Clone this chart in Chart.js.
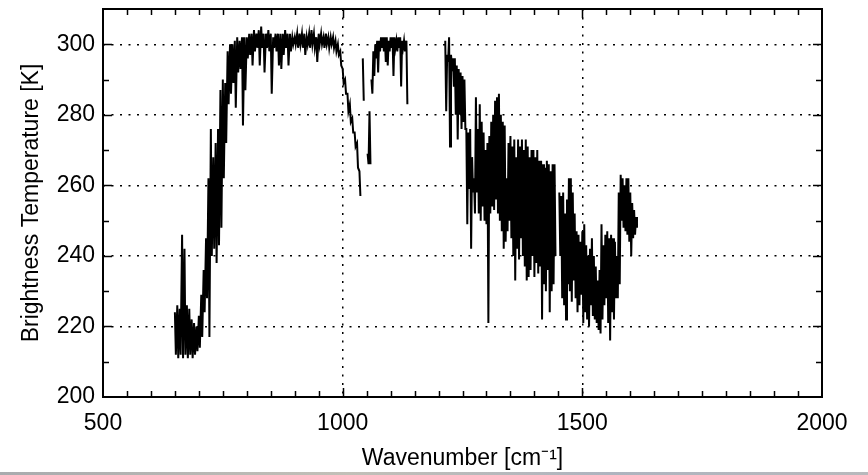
<!DOCTYPE html>
<html>
<head>
<meta charset="utf-8">
<script src="https://cdn.jsdelivr.net/npm/chart.js@4.4.0/dist/chart.umd.min.js"></script>
<style>
  html, body { margin: 0; padding: 0; background: #fff; }
  #wrap { position: relative; width: 868px; height: 475px; }
  #strip { position: absolute; left: 0; bottom: 0; width: 868px; height: 3px;
           background: linear-gradient(90deg, #a9abae, #c2c0b8 40%, #aeb4bf 70%, #b8b9bc); }
</style>
</head>
<body>
<div id="wrap">
  <canvas id="btChart" width="868" height="475"></canvas>
  <div id="strip"></div>
</div>
<script>
// Brightness temperature spectrum, binned: upper and lower value per bin, null = no channels
const wavenumber = [
  650, 655, 660, 665, 670, 675, 680, 685, 690, 695,
  700, 705, 710, 715, 720, 725, 730, 735, 740, 745,
  750, 755, 760, 765, 770, 775, 780, 785, 790, 795,
  800, 805, 810, 815, 820, 825, 830, 835, 840, 845,
  850, 855, 860, 865, 870, 875, 880, 885, 890, 895,
  900, 905, 910, 915, 920, 925, 930, 935, 940, 945,
  950, 955, 960, 965, 970, 975, 980, 985, 990, 995,
  1000, 1005, 1010, 1015, 1020, 1025, 1030, 1035, 1039, 1042,
  1045, 1052, 1056, 1058, 1060, 1064, 1068, 1072, 1076, 1080, 1084,
  1088, 1092, 1096, 1100, 1104, 1108, 1112, 1116, 1120, 1124,
  1128, 1133, 1137,
  1212, 1214, 1218, 1222, 1226, 1230, 1234, 1238, 1242, 1246,
  1250, 1254, 1258, 1262, 1266, 1270, 1274, 1278, 1282, 1286,
  1290, 1294, 1298, 1302, 1306, 1310, 1314, 1318, 1322, 1326,
  1330, 1334, 1338, 1342, 1346, 1350, 1354, 1358, 1362, 1366,
  1370, 1374, 1378, 1382, 1386, 1390, 1394, 1398, 1402, 1406,
  1410, 1414, 1418, 1422, 1426, 1430, 1434, 1438, 1442, 1446,
  1452, 1456, 1460, 1464, 1468, 1472, 1476, 1480, 1484, 1488,
  1492, 1496, 1500, 1504, 1508, 1512, 1516, 1520, 1524, 1528,
  1532, 1536, 1540, 1544, 1548, 1552, 1556, 1560, 1564, 1568,
  1572, 1576, 1580, 1584, 1588, 1592, 1596, 1600, 1604, 1608,
  1612
];
const tbHigh = [
  224, 226, 225, 246, 242, 226, 225, 222, 221, 220,
  223, 229, 236, 245, 262, 276, 268, 272, 276, 287,
  290, 289, 298, 300, 300, 301, 302, 301, 302, 302,
  302, 303, 303, 304, 303, 304, 305, 303, 303, 304,
  303, 302, 303, 303, 303, 303, 304, 303, 303, 302,
  302, 303, 303, 303, 303, 302, 303, 304, 303, 302,
  303, 303, 302, 303, 302, 302, 302, 301, 300, 298,
  293, 290, 286, 283, 279, 275, 272, 264, null, 296,
  null, 269, 281, null, 290, 298, 300, 301, 301, 302, 302,
  302, 302, 301, 302, 302, 302, 301, 302, 302, 301,
  301, 301, null,
  null, 301, 297, 302, 297, 296, 296, 294, 293, 292,
  291, 290, 276, 275, 276, 268, 262, 285, 276, 283,
  278, 275, 270, 272, 274, 278, 280, 284, 285, 286,
  280, 278, 277, 262, 272, 274, 271, 273, 268, 273,
  271, 273, 270, 273, 271, 268, 270, 270, 268, 270,
  267, 267, 266, 265, 267, 266, 264, 266, 266, null,
  258, 257, 258, 252, 256, 262, 262, 258, 252, 247,
  246, 244, 247, 249, 243, 240, 242, 245, 240, 237,
  233, 236, 249, 243, 246, 247, 245, 246, 245, 244,
  240, 258, 263, 262, 260, 262, 262, 258, 255, 253,
  251
];
const tbLow = [
  212, 211, 212, 211, 212, 211, 212, 211, 212, 213,
  214, 217, 224, 228, 217, 240, 242, 238, 243, 248,
  262, 272, 283, 286, 289, 282, 292, 293, 277, 287,
  296, 297, 294, 298, 299, 294, 299, 292, 299, 298,
  286, 299, 298, 294, 293, 297, 299, 294, 298, 300,
  300, 299, 300, 299, 297, 300, 299, 300, 299, 295,
  300, 300, 299, 300, 299, 300, 299, 298, 297, 294,
  289, 286, 281, 278, 275, 271, 265, 257, null, 284,
  null, 266, 266, null, 286, 291, 296, 292, 298, 299, 298,
  295, 294, 298, 299, 291, 299, 298, 299, 288, 299,
  298, 283, null,
  null, 281, 295, 271, 294, 288, 280, 273, 280, 276,
  278, 276, 249, 259, 242, 258, 252, 258, 252, 250,
  254, 250, 249, 221, 252, 254, 253, 256, 252, 250,
  247, 242, 244, 247, 250, 245, 240, 233, 242, 239,
  245, 240, 237, 233, 234, 236, 240, 234, 238, 235,
  237, 222, 232, 230, 236, 224, 230, 232, 240, null,
  240, 228, 226, 222, 232, 230, 227, 233, 228, 224,
  226, 229, 221, 224, 222, 220, 226, 223, 222, 221,
  219, 218, 222, 226, 228, 221, 216, 224, 222, 228,
  228, 232, 250, 248, 247, 246, 244, 240, 245, 246,
  248
];

const xTicks = [500, 1000, 1500, 2000];
const yTicks = [200, 220, 240, 260, 280, 300];
const xMinorStep = 50;
const yMinorStep = 10;
const xRange = [500, 2000];
const yRange = [200, 310];

// zig-zag each bin from its upper to its lower value so the dense channels fill in
const spectrum = [];
wavenumber.forEach((wn, i) => {
  if (tbHigh[i] === null) {
    spectrum.push({ x: wn, y: null });
    return;
  }
  spectrum.push({ x: wn, y: tbHigh[i] });
  spectrum.push({ x: wn + 2, y: tbLow[i] });
});

// closed box round the plot plus inward major/minor ticks on all four sides
const boxTicks = {
  id: 'boxTicks',
  afterDraw(chart) {
    const { ctx, chartArea: a, scales: { x, y } } = chart;
    ctx.save();
    ctx.strokeStyle = '#000';
    ctx.lineWidth = 2;
    ctx.strokeRect(a.left, a.top, a.right - a.left, a.bottom - a.top);
    ctx.lineWidth = 1.5;
    ctx.beginPath();
    for (let v = xRange[0] + xMinorStep; v < xRange[1]; v += xMinorStep) {
      const px = Math.round(x.getPixelForValue(v)) + 0.5;
      const len = xTicks.includes(v) ? 9 : 6;
      ctx.moveTo(px, a.bottom); ctx.lineTo(px, a.bottom - len);
      ctx.moveTo(px, a.top); ctx.lineTo(px, a.top + len);
    }
    for (let v = yRange[0] + yMinorStep; v < yRange[1]; v += yMinorStep) {
      const py = Math.round(y.getPixelForValue(v)) + 0.5;
      const len = yTicks.includes(v) ? 9 : 6;
      ctx.moveTo(a.left, py); ctx.lineTo(a.left + len, py);
      ctx.moveTo(a.right, py); ctx.lineTo(a.right - len, py);
    }
    ctx.stroke();
    ctx.restore();
  }
};

const font = { family: "'Liberation Sans', Arial, sans-serif", size: 23 };

new Chart(document.getElementById('btChart'), {
  type: 'line',
  data: {
    datasets: [{
      data: spectrum,
      borderColor: '#000',
      borderWidth: 2,
      pointRadius: 0,
      tension: 0,
      spanGaps: false
    }]
  },
  options: {
    responsive: false,
    animation: false,
    layout: { padding: { top: 9, right: 46, left: 0, bottom: 0 } },
    plugins: { legend: { display: false }, tooltip: { enabled: false } },
    scales: {
      x: {
        type: 'linear',
        min: xRange[0],
        max: xRange[1],
        afterBuildTicks: s => { s.ticks = xTicks.map(v => ({ value: v })); },
        afterFit: s => { s.height = 78; s.paddingLeft = 0; s.paddingRight = 0; },
        grid: { color: '#000', lineWidth: 1.5, drawTicks: false },
        border: { display: false, dash: [2, 6.5] },
        ticks: {
          color: '#000', font: font, padding: 13, maxRotation: 0, autoSkip: false,
          callback: v => String(v)
        },
        title: {
          display: true,
          text: 'Wavenumber [cm⁻¹]',
          color: '#000',
          font: { family: font.family, size: 23 },
          padding: { top: 0, bottom: 3 }
        }
      },
      y: {
        min: yRange[0],
        max: yRange[1],
        afterBuildTicks: s => { s.ticks = yTicks.map(v => ({ value: v })); },
        afterFit: s => { s.width = 103; s.paddingTop = 0; s.paddingBottom = 0; },
        grid: { color: '#000', lineWidth: 1.5, drawTicks: false },
        border: { display: false, dash: [2, 6.5] },
        ticks: { color: '#000', font: font, padding: 8, callback: v => String(v) },
        title: {
          display: true,
          text: 'Brightness Temperature [K]',
          color: '#000',
          font: { family: font.family, size: 23 },
          padding: { top: 18, bottom: 0 }
        }
      }
    }
  },
  plugins: [boxTicks]
});
</script>
</body>
</html>
